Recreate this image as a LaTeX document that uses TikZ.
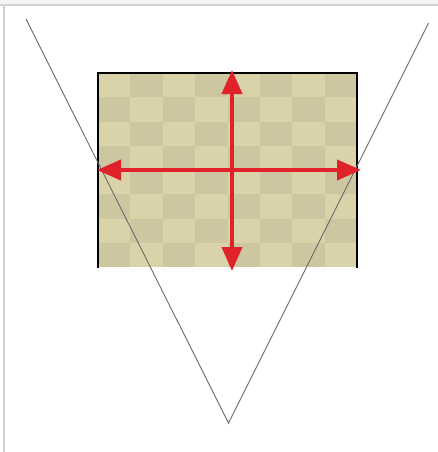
\documentclass[tikz,border=0pt]{standalone}
\usetikzlibrary{arrows.meta}
\definecolor{tanlight}{HTML}{DAD2A8}
\definecolor{tandark}{HTML}{CCC7A1}
\definecolor{redarrow}{HTML}{E0232A}
\definecolor{framegray}{HTML}{D2D2D2}
\definecolor{topgray}{HTML}{F4F4F4}
\definecolor{vgray}{HTML}{6A6A6A}
\tikzset{
  redarr/.style={draw=redarrow, line width=4pt, {Triangle[length=24pt,width=20pt]}-{Triangle[length=24pt,width=20pt]}},
  vline/.style={draw=vgray, line width=0.9pt},
  border/.style={draw=black, line width=2.5pt, line cap=rect},
  frameline/.style={draw=framegray, line width=2pt}
}
\begin{document}
\begin{tikzpicture}[x=1pt,y=-1pt]
\useasboundingbox (0,0) rectangle (438,452);
\fill[white] (0,0) rectangle (438,452);
\fill[topgray] (0,0) rectangle (438,5);
\draw[frameline] (0,5.5) -- (438,5.5);
\draw[frameline] (3.5,5.5) -- (3.5,452);
% checkerboard
\foreach \i in {0,...,7}{
  \foreach \j in {0,...,7}{
    \pgfmathtruncatemacro{\cpar}{mod(\i+\j,2)}
    \ifnum\cpar=0
      \fill[tanlight] ({98+\i*32.375},{73+\j*24.25}) rectangle ({98+(\i+1)*32.375},{73+(\j+1)*24.25});
    \else
      \fill[tandark] ({98+\i*32.375},{73+\j*24.25}) rectangle ({98+(\i+1)*32.375},{73+(\j+1)*24.25});
    \fi
  }
}
\coordinate (bl) at (98,267);
\coordinate (tl) at (98,73);
\coordinate (tr) at (357,73);
\coordinate (br) at (357,267);
\draw[border] (bl) -- (tl) -- (tr) -- (br);
% V lines
\coordinate (vl) at (26,19);
\coordinate (vb) at (228.5,423);
\coordinate (vr) at (428.5,23);
\draw[vline] (vl) -- (vb) -- (vr);
% red arrows
\coordinate (at) at (232,70);
\coordinate (ab) at (232,271);
\coordinate (al) at (97,170);
\coordinate (ar) at (361,170);
\draw[redarr] (at) -- (ab);
\draw[redarr] (al) -- (ar);
\end{tikzpicture}
\end{document}
